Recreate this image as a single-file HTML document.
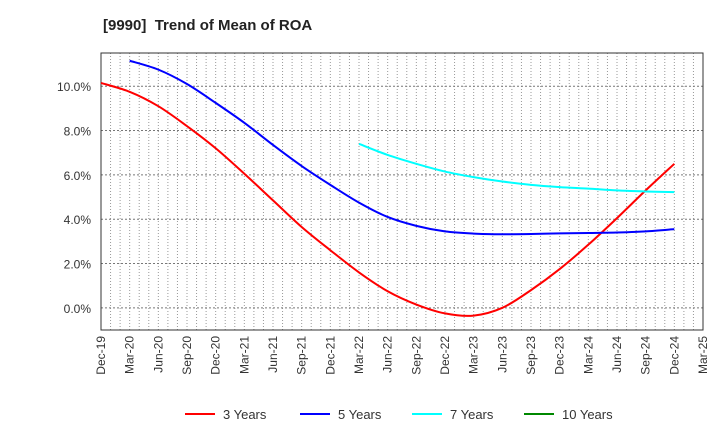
<!DOCTYPE html>
<html><head><meta charset="utf-8"><style>
body{margin:0;background:#fff;font-family:"Liberation Sans",sans-serif;}
svg text{font-family:"Liberation Sans",sans-serif;}
</style></head><body>
<svg id="c" width="720" height="440" xmlns="http://www.w3.org/2000/svg">
<text x="103" y="30" font-size="15" font-weight="bold" fill="#222">[9990]&#160; Trend of Mean of ROA</text>
<g id="grid"></g><g id="axes"></g><g id="series"></g><g id="legend"></g>
</svg>
<script>
const categories=["Dec-19","Mar-20","Jun-20","Sep-20","Dec-20","Mar-21","Jun-21","Sep-21","Dec-21","Mar-22","Jun-22","Sep-22","Dec-22","Mar-23","Jun-23","Sep-23","Dec-23","Mar-24","Jun-24","Sep-24","Dec-24","Mar-25"];
const yTicks=[0,2,4,6,8,10];
const s3=[10.15,9.75,9.1,8.2,7.2,6.05,4.85,3.65,2.6,1.6,0.75,0.15,-0.25,-0.35,0.0,0.8,1.75,2.85,4.05,5.3,6.5];
const s5=[null,11.15,10.75,10.1,9.25,8.35,7.35,6.4,5.55,4.75,4.1,3.7,3.45,3.35,3.32,3.33,3.36,3.38,3.4,3.45,3.55];
const s7=[null,null,null,null,null,null,null,null,null,7.4,6.9,6.5,6.15,5.9,5.7,5.55,5.45,5.38,5.3,5.25,5.22];
const s10=[];
const NS="http://www.w3.org/2000/svg";
const L=101,R=703,T=53,B=330,yMin=-1,yMax=11.5;
const xs=i=>L+(R-L)*i/(categories.length-1);
const ys=v=>B-(v-yMin)/(yMax-yMin)*(B-T);
function mk(tag,attrs,parent){const e=document.createElementNS(NS,tag);for(const k in attrs)e.setAttribute(k,attrs[k]);document.getElementById(parent).appendChild(e);return e;}
for(let m=1;m<(categories.length-1)*3;m++){const x=L+(R-L)*m/((categories.length-1)*3);
const g=mk("line",{x1:x,x2:x,y1:T,y2:B,stroke:"#999","stroke-width":1,"stroke-dasharray":"1,2"},"grid");

}
yTicks.forEach(v=>{const y=ys(v);
const g=mk("line",{x1:L,x2:R,y1:y,y2:y,stroke:"#777","stroke-width":1,"stroke-dasharray":"2,2"},"grid");


const t=mk("text",{x:L-10,y:y+5,"text-anchor":"end","font-size":12,fill:"#333"},"axes");t.textContent=v.toFixed(1)+"%";

});
const fr=mk("rect",{x:L,y:T,width:R-L,height:B-T,fill:"none",stroke:"#333","stroke-width":1},"axes");


categories.forEach((c,i)=>{const x=xs(i);
const t=mk("text",{transform:`translate(${x+4},${B+6}) rotate(-90)`,"text-anchor":"end","font-size":12,fill:"#333"},"axes");t.textContent=c;

});
function path(arr){const p=[];arr.forEach((v,i)=>{if(v!=null)p.push([xs(i),ys(v)]);});if(p.length<2)return"";
let d=`M${p[0][0]},${p[0][1]}`;for(let i=0;i<p.length-1;i++){const p0=p[i-1]||p[i],p1=p[i],p2=p[i+1],p3=p[i+2]||p2;
d+=` C${p1[0]+(p2[0]-p0[0])/6},${p1[1]+(p2[1]-p0[1])/6} ${p2[0]-(p3[0]-p1[0])/6},${p2[1]-(p3[1]-p1[1])/6} ${p2[0]},${p2[1]}`;}return d;}
[[s3,"#f00","3 Years"],[s5,"#00f","5 Years"],[s7,"#0ff","7 Years"],[s10,"#080","10 Years"]].forEach(([a,c,n],k)=>{
const d=path(a);if(d){const p=mk("path",{d:d,fill:"none",stroke:c,"stroke-width":2},"series");

}
const lx=[185,300,412,524][k];
const ll=mk("line",{x1:lx,x2:lx+30,y1:414,y2:414,stroke:c,"stroke-width":2},"legend");


const lt=mk("text",{x:lx+38,y:419,"font-size":13,fill:"#333"},"legend");lt.textContent=n;

});
</script>
</body></html>
